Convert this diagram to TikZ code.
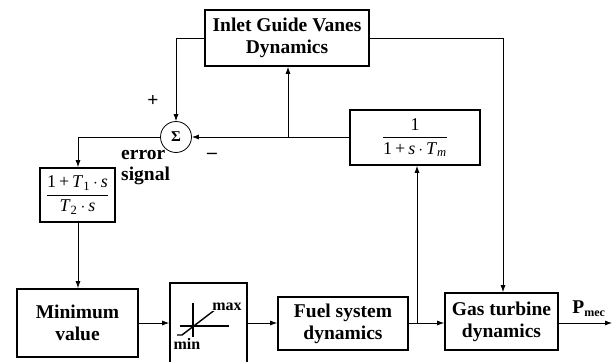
\documentclass[tikz,border=0pt]{standalone}
\usepackage{fontspec}
\setmainfont{Liberation Serif}
\usetikzlibrary{arrows.meta,calc}
\newcommand{\tfrac}[2]{$\displaystyle\frac{\hbox{#1}}{\hbox{#2}}$}
\begin{document}
\begin{tikzpicture}[x=1pt,y=-1pt,
  blk/.style={draw,line width=1.6pt,rectangle,align=center,inner sep=0pt,font=\fontsize{19.5}{22}\selectfont\bfseries},
  frblk/.style={draw,line width=1.6pt,rectangle,align=center,inner sep=0pt,font=\fontsize{18}{21}\selectfont},
  conn/.style={line width=0.8pt,-{Latex[length=7pt,width=5pt]}},
  lbl/.style={font=\fontsize{19.5}{21}\selectfont\bfseries,inner sep=0pt}
]
\useasboundingbox (0,0) rectangle (612,361);
\node[blk,minimum width=164pt,minimum height=56pt] (igv) at (287,38) {Inlet Guide Vanes\\Dynamics};
\node[draw,circle,line width=0.8pt,minimum size=31pt,inner sep=0pt,font=\fontsize{15}{15}\selectfont\bfseries] (sig) at (176,137) {Σ};
\node[frblk,minimum width=75pt,minimum height=54pt] (lead) at (77.5,195)
  {\tfrac{1\,+\,\textit{T}\textsubscript{1}\,$\cdot$\,\textit{s}}{\textit{T}\textsubscript{2}\,$\cdot$\,\textit{s}}};
\node[frblk,minimum width=130pt,minimum height=55pt] (tm) at (415,137.5)
  {\tfrac{1}{\rule{0pt}{15pt}1\,+\,\textit{s}\,$\cdot$\,\textit{T}\textsubscript{\textit{m}}}};
\node[blk,minimum width=121pt,minimum height=68pt] (minv) at (77.5,323) {Minimum\\value};
\node[blk,minimum width=77pt,minimum height=82pt] (lim) at (208.5,324) {};
\node[blk,minimum width=130pt,minimum height=53pt] (fuel) at (343,323.5) {Fuel system\\dynamics};
\node[blk,minimum width=113pt,minimum height=57pt] (gas) at (501.5,321.5) {Gas turbine\\dynamics};
% limiter glyph
\draw[line width=1.4pt] (193,303) -- (193,337);
\draw[line width=1.4pt] (180,326) -- (229,326);
\draw[line width=1.4pt] (177,335) -- (182,335) -- (216,309) -- (222,309);
\node[font=\fontsize{16}{17}\selectfont\bfseries,fill=white,inner sep=0.5pt] (mx) at (227,307) {max};
\node[font=\fontsize{16}{17}\selectfont\bfseries,inner sep=0pt] (mn) at (187,344) {min};
% coordinates
\coordinate (j1) at (288,137);
\coordinate (j2) at (417,323);
\coordinate (out) at (612,323);
% connectors
\draw[conn] (igv.west) -| (sig.north);
\draw[conn] (igv.east) -| (gas.north -| 503,0);
\draw[conn] (sig.west) -| (lead.north -| 78,0);
\draw[conn] (tm.west |- j1) -- (sig.east);
\draw[conn] (j1) -- (j1 |- igv.south);
\draw[conn] (lead.south -| 78,0) -- (minv.north -| 78,0);
\draw[conn] (minv.east |- 0,323) -- (lim.west |- 0,323);
\draw[conn] (lim.east |- 0,323) -- (fuel.west |- 0,323);
\draw[conn] (fuel.east |- j2) -- (gas.west |- j2);
\draw[conn] (j2) -- (tm.south -| j2);
\draw[conn] (gas.east |- out) -- (out);
% labels
\node[lbl] (plus) at (153,101) {+};
\node[lbl] (minus) at (212,156) {–};
\node[lbl,align=left,anchor=north west] (err) at (121,150) {error\\signal};
\node[lbl] (pm) at (589,309) {P\textsubscript{\fontsize{12}{13}\selectfont mec}};
\end{tikzpicture}
\end{document}
